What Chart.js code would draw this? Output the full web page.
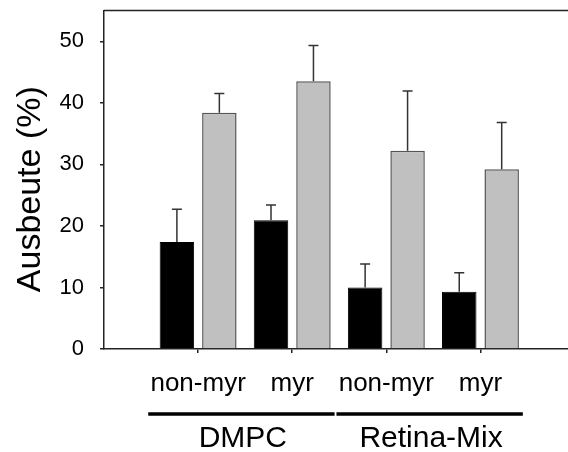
<!DOCTYPE html>
<html lang="de">
<head>
<meta charset="utf-8">
<title>Ausbeute</title>
<script src="https://cdn.jsdelivr.net/npm/chart.js@4/dist/chart.umd.min.js"></script>
<style>
  html, body { margin: 0; padding: 0; background: #fff; overflow: hidden; }
  canvas { display: block; }
</style>
</head>
<body>
<canvas id="chart" width="568" height="452"></canvas>
<script>
// Categories along the x axis and the lipid groups they belong to
const categories = ['non-myr', 'myr', 'non-myr', 'myr'];
const groupNames = ['DMPC', 'Retina-Mix'];
const groupMembers = [[0, 1], [2, 3]];

// Yield (%) with upper error bars, two series
const blackValues = [17.4, 20.9, 10.0, 9.3];
const blackErrors = [5.3, 2.5, 3.8, 3.1];
const greyValues = [38.4, 43.5, 32.2, 29.2];
const greyErrors = [3.1, 5.8, 9.7, 7.6];

// Axis ticks
const yTicks = [0, 10, 20, 30, 40, 50];

const FONT = '"Liberation Sans", Arial, Helvetica, sans-serif';
const AXIS_COLOR = '#222';

Chart.defaults.font.family = FONT;
Chart.defaults.color = '#000';

const errorSets = [blackErrors, greyErrors];

// Upward error bars on every bar
const errorBars = {
  id: 'errorBars',
  afterDatasetsDraw(chart) {
    const ctx = chart.ctx;
    const yScale = chart.scales.y;
    ctx.save();
    ctx.strokeStyle = '#333';
    ctx.lineWidth = 1.5;
    chart.data.datasets.forEach((ds, di) => {
      const meta = chart.getDatasetMeta(di);
      meta.data.forEach((bar, i) => {
        const v = ds.data[i].y;
        const e = errorSets[di][i];
        const y0 = yScale.getPixelForValue(v);
        const y1 = yScale.getPixelForValue(v + e);
        ctx.beginPath();
        ctx.moveTo(bar.x, y0);
        ctx.lineTo(bar.x, y1);
        ctx.moveTo(bar.x - 5, y1);
        ctx.lineTo(bar.x + 5, y1);
        ctx.stroke();
      });
    });
    ctx.restore();
  }
};

// Top frame line and the group underlines with their names
const frameAndGroups = {
  id: 'frameAndGroups',
  afterDraw(chart) {
    const ctx = chart.ctx;
    const area = chart.chartArea;
    const xScale = chart.scales.x;
    ctx.save();
    ctx.strokeStyle = AXIS_COLOR;
    ctx.lineWidth = 1.5;
    ctx.beginPath();
    ctx.moveTo(area.left, area.top);
    ctx.lineTo(area.right, area.top);
    ctx.stroke();

    ctx.strokeStyle = '#000';
    ctx.lineWidth = 3.5;
    ctx.fillStyle = '#000';
    ctx.font = '30px ' + FONT;
    ctx.textAlign = 'center';
    ctx.textBaseline = 'alphabetic';
    groupNames.forEach((name, g) => {
      const first = groupMembers[g][0] + 1;
      const last = groupMembers[g][groupMembers[g].length - 1] + 1;
      const x1 = xScale.getPixelForValue(first - 0.53);
      const x2 = xScale.getPixelForValue(last + 0.45);
      const yLine = area.bottom + 65;
      ctx.beginPath();
      ctx.moveTo(x1, yLine);
      ctx.lineTo(x2, yLine);
      ctx.stroke();
      ctx.fillText(name, xScale.getPixelForValue((first + last) / 2 - 0.025), area.bottom + 97.5);
    });
    ctx.restore();
  }
};

new Chart(document.getElementById('chart'), {
  type: 'bar',
  data: {
    datasets: [
      {
        label: 'Reihe 1',
        data: categories.map((c, i) => ({ x: i + 1, y: blackValues[i] })),
        backgroundColor: '#000',
        borderColor: '#000',
        borderWidth: 1
      },
      {
        label: 'Reihe 2',
        data: categories.map((c, i) => ({ x: i + 1, y: greyValues[i] })),
        backgroundColor: '#c0c0c0',
        borderColor: '#555',
        borderWidth: 1.5
      }
    ]
  },
  options: {
    responsive: false,
    animation: false,
    devicePixelRatio: 1,
    categoryPercentage: 0.902,
    barPercentage: 0.812,
    layout: { padding: { top: 10.5, left: 8, right: 0, bottom: 37.8 } },
    plugins: {
      legend: { display: false },
      tooltip: { enabled: false }
    },
    scales: {
      x: {
        type: 'linear',
        offset: false,
        min: 0,
        max: 4.93,
        afterBuildTicks: s => { s.ticks = categories.map((c, i) => ({ value: i + 1 })); },
        afterFit: s => { s.paddingLeft = 0; s.paddingRight = 0; },
        border: { display: true, color: AXIS_COLOR, width: 1.5 },
        grid: { display: true, offset: false, drawOnChartArea: false, drawTicks: true, tickLength: 4, color: AXIS_COLOR, lineWidth: 1.5 },
        ticks: {
          callback: (v, i) => categories[i],
          color: '#000',
          font: { size: 26 },
          padding: 15,
          maxRotation: 0,
          autoSkip: false
        }
      },
      y: {
        min: 0,
        max: 55,
        afterBuildTicks: s => { s.ticks = yTicks.map(v => ({ value: v })); },
        afterFit: s => { s.paddingTop = 0; s.paddingBottom = 0; s.width = 96; },
        border: { display: true, color: AXIS_COLOR, width: 1.5 },
        grid: { display: true, drawOnChartArea: false, drawTicks: true, tickLength: 4, color: AXIS_COLOR, lineWidth: 1.5 },
        ticks: {
          color: '#000',
          font: { size: 22 },
          padding: 16
        },
        title: {
          display: true,
          text: 'Ausbeute (%)  ',
          color: '#000',
          font: { size: 34 },
          padding: { top: 2.6, bottom: 0 }
        }
      }
    }
  },
  plugins: [errorBars, frameAndGroups]
});
</script>
</body>
</html>
